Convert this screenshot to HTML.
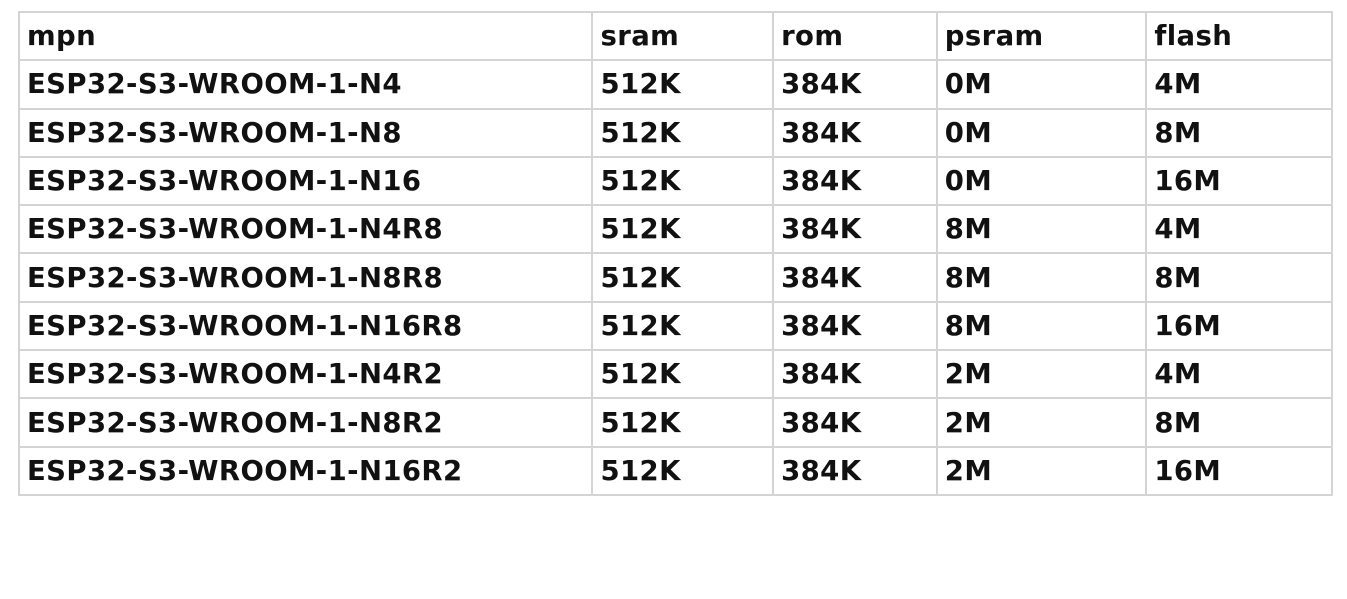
<!DOCTYPE html>
<html><head><meta charset="utf-8"><style>
body{margin:0;width:1347px;height:599px;background:#fff;overflow:hidden;font-family:"DejaVu Sans","Liberation Sans",sans-serif;}
table{position:absolute;left:18px;top:11px;border-collapse:collapse;width:1315px;}
td{border:2px solid #d4d4d4;height:46.3px;padding:0 0 0 7px;font-weight:bold;font-size:27.5px;color:#111;white-space:nowrap;letter-spacing:0.4px;}
</style></head><body>
<table>
<colgroup><col style="width:574px"><col style="width:181px"><col style="width:164px"><col style="width:210px"><col style="width:186px"></colgroup>
<tr><td>mpn</td><td>sram</td><td>rom</td><td>psram</td><td>flash</td></tr>
<tr><td>ESP32-S3-WROOM-1-N4</td><td>512K</td><td>384K</td><td>0M</td><td>4M</td></tr>
<tr><td>ESP32-S3-WROOM-1-N8</td><td>512K</td><td>384K</td><td>0M</td><td>8M</td></tr>
<tr><td>ESP32-S3-WROOM-1-N16</td><td>512K</td><td>384K</td><td>0M</td><td>16M</td></tr>
<tr><td>ESP32-S3-WROOM-1-N4R8</td><td>512K</td><td>384K</td><td>8M</td><td>4M</td></tr>
<tr><td>ESP32-S3-WROOM-1-N8R8</td><td>512K</td><td>384K</td><td>8M</td><td>8M</td></tr>
<tr><td>ESP32-S3-WROOM-1-N16R8</td><td>512K</td><td>384K</td><td>8M</td><td>16M</td></tr>
<tr><td>ESP32-S3-WROOM-1-N4R2</td><td>512K</td><td>384K</td><td>2M</td><td>4M</td></tr>
<tr><td>ESP32-S3-WROOM-1-N8R2</td><td>512K</td><td>384K</td><td>2M</td><td>8M</td></tr>
<tr><td>ESP32-S3-WROOM-1-N16R2</td><td>512K</td><td>384K</td><td>2M</td><td>16M</td></tr>
</table>
</body></html>
